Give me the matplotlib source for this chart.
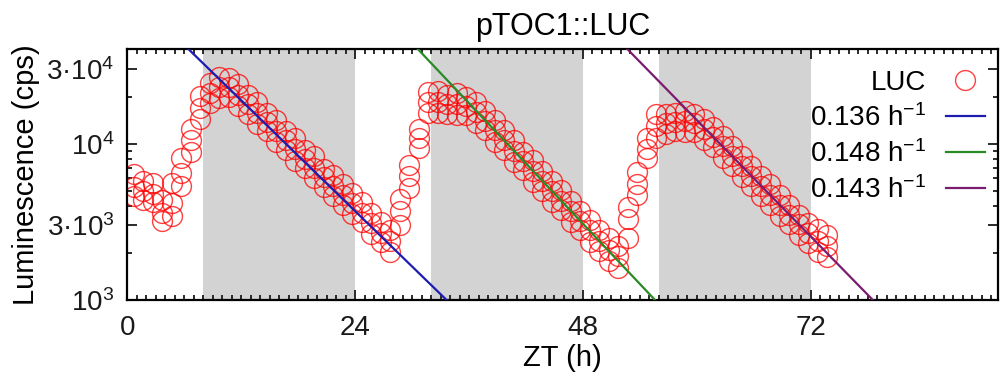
import numpy as np
import matplotlib
matplotlib.use("Agg")
from matplotlib import pyplot as plt
from matplotlib.ticker import FixedLocator, MultipleLocator, NullFormatter

plt.rcParams['font.family'] = ['Liberation Sans', 'DejaVu Sans']
plt.rcParams['mathtext.fontset'] = 'custom'
plt.rcParams['mathtext.rm'] = 'Liberation Sans'
plt.rcParams['mathtext.default'] = 'regular'

# sampling times (h), one reading per hour
zt = np.arange(74) + 0.7

# luminescence of three replicates, in thousands of cps
luc_hi = [6.4, 5.8, 5.6, 4.35, 5.6, 8.1, 12.4, 20.2, 24.3, 26.9, 26.2, 24.0,
          20.5, 18.5, 15.7, 14.1, 12.0, 10.8, 9.1, 8.3, 6.9, 6.3, 5.5, 4.85,
          4.25, 3.6, 3.15, 2.8, 4.45, 7.35, 12.5, 21.4, 21.6, 20.5, 21.0, 20.0,
          18.5, 16.2, 14.2, 12.2, 10.6, 8.9, 7.85, 6.7, 5.8, 5.05, 4.3, 3.7,
          3.25, 2.8, 2.5, 2.2, 3.95, 6.6, 10.9, 15.5, 15.6, 15.7, 16.2, 15.6,
          14.5, 12.7, 11.2, 9.6, 8.4, 7.15, 6.2, 5.5, 4.7, 4.05, 3.5, 3.1,
          2.85, 2.6]
luc_mid = [5.3, 5.0, 4.8, 3.6, 4.2, 6.5, 10.5, 17.0, 21.0, 23.0, 23.0, 20.5,
           18.0, 15.8, 13.8, 12.0, 10.5, 9.2, 8.0, 7.0, 6.1, 5.4, 4.7, 4.2,
           3.6, 3.1, 2.7, 2.4, 3.7, 6.2, 10.8, 18.5, 18.5, 18.0, 18.0, 17.5,
           16.0, 14.0, 12.2, 10.5, 9.0, 7.8, 6.7, 5.8, 5.0, 4.3, 3.7, 3.2,
           2.8, 2.4, 2.1, 1.9, 3.3, 5.5, 9.3, 13.0, 13.5, 13.8, 14.0, 13.5,
           12.5, 11.0, 9.6, 8.3, 7.2, 6.2, 5.4, 4.7, 4.05, 3.5, 3.05, 2.7,
           2.4, 2.2]
luc_lo = [4.65, 4.35, 4.25, 3.2, 3.45, 5.4, 8.9, 14.5, 18.2, 19.5, 20.0, 17.4,
          15.6, 13.4, 12.0, 10.2, 9.1, 7.8, 6.95, 6.0, 5.3, 4.6, 4.05, 3.55,
          3.15, 2.65, 2.35, 2.03, 3.0, 5.2, 9.35, 15.7, 15.7, 15.6, 15.2, 15.2,
          13.6, 12.2, 10.3, 9.1, 7.6, 6.75, 5.7, 5.0, 4.25, 3.75, 3.15, 2.8,
          2.35, 2.07, 1.78, 1.61, 2.5, 4.7, 8.1, 10.8, 11.5, 12.0, 11.9, 11.8,
          10.6, 9.55, 8.15, 7.25, 6.1, 5.4, 4.6, 4.05, 3.45, 3.05, 2.6, 2.3,
          2.03, 1.88]

# dark periods (h)
dark_start = [8, 32, 56]
dark_end = [24, 48, 72]

# exponential decay fits: rate (1/h), reference time (h), value there (cps)
fit_rate = [0.136, 0.148, 0.143]
fit_t0 = [20.0, 43.1, 65.6]
fit_y0 = [6390, 6350, 6350]
fit_color = ['#1c1cb0', '#2a8a26', '#7a1c70']

fig = plt.figure(figsize=(10.01, 3.79), dpi=100)
ax = fig.add_axes([0.127, 0.2084, 0.87, 0.662])

for a, b in zip(dark_start, dark_end):
    ax.axvspan(a, b, color='#d3d3d3', lw=0, zorder=0)

for rep in [luc_hi, luc_mid, luc_lo]:
    ax.plot(zt, np.array(rep) * 1000, 'o', ms=14.3, mfc='none', mec='#ff0000',
            mew=1.0, alpha=0.75, zorder=2, label='LUC' if rep is luc_hi else None)

tt = np.linspace(0, 92, 400)
for r, t0, y0, c in zip(fit_rate, fit_t0, fit_y0, fit_color):
    ax.plot(tt, y0 * np.exp(-r * (tt - t0)), color=c, lw=1.6, zorder=3,
            label='%.3f h$^{-1}$' % r)

ax.set_yscale('log')
ax.set_xlim(0, 91.7)
ax.set_ylim(1e3, 4.03e4)

ax.xaxis.set_major_locator(FixedLocator([0, 24, 48, 72]))
ax.xaxis.set_minor_locator(MultipleLocator(1))
ax.yaxis.set_major_locator(FixedLocator([1e3, 3e3, 1e4, 3e4]))
ax.yaxis.set_major_formatter(plt.FixedFormatter(['10$^3$', '3·10$^3$', '10$^4$', '3·10$^4$']))
ax.yaxis.set_minor_locator(FixedLocator([2e3, 4e3, 5e3, 6e3, 7e3, 8e3, 9e3, 2e4]))
ax.yaxis.set_minor_formatter(NullFormatter())

ax.tick_params(which='both', direction='in', top=True, right=True, width=1.3,
               labelsize=20, colors='#1a1a1a')
ax.tick_params(axis='x', which='major', length=7, pad=11)
ax.tick_params(axis='y', which='major', length=7, pad=9)
ax.tick_params(which='minor', length=3.5)
for s in ax.spines.values():
    s.set_linewidth(1.6)

ax.set_xlabel('ZT (h)', fontsize=21, labelpad=2)
ax.set_ylabel('Luminescence (cps)', fontsize=21, labelpad=5)
ax.set_title('pTOC1::LUC', fontsize=22, pad=10)

leg = ax.legend(loc='upper right', bbox_to_anchor=(1.004, 0.985), frameon=False,
                markerfirst=False, fontsize=20, handlelength=1.4,
                handletextpad=0.7, labelspacing=0.3, borderaxespad=0.2)

fig.savefig('out.png', dpi=100)
